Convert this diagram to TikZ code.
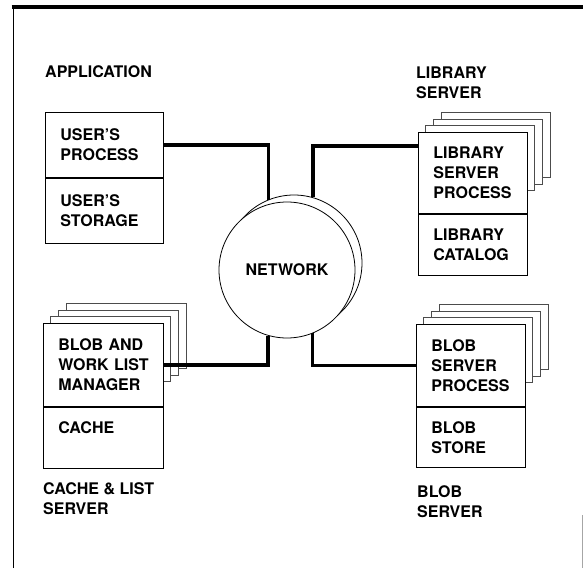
\documentclass[tikz,border=0pt]{standalone}
\usepackage{fontspec}
\setmainfont{TeX Gyre Heros}
\usetikzlibrary{backgrounds}
\begin{document}
\begin{tikzpicture}[x=1pt,y=-1pt,
	every node/.style={font=\bfseries\fontsize{16}{20}\selectfont},
	part/.style={draw,line width=0.8pt,fill=white,inner xsep=15pt,inner ysep=0pt,align=left,anchor=north west},
	sheet/.style={draw=black!70,line width=0.7pt,fill=white},
	link/.style={line width=3.6pt},
	caption/.style={anchor=north west,inner sep=0pt,align=left}]
	\useasboundingbox (0,0) rectangle (583,568);
	% frame
	\draw[line width=0.8pt] (13,568) -- (13,7);
	\draw[line width=3.5pt] (11.6,7) -- (583,7);
	\draw[black!35,line width=0.5pt] (582,515) -- (582,568);
	% titles
	\node[caption] (appl) at (45,65) {APPLICATION};
	\node[caption] (libsrv) at (416,67) {LIBRARY\\SERVER};
	\node[caption] (cachesrv) at (43,482) {CACHE \& LIST\\SERVER};
	\node[caption] (blobsrv) at (417,485) {BLOB\\SERVER};
	% application
	\node[part,text width=88pt,minimum height=65pt] (userproc) at (45,112) {USER'S\\PROCESS};
	\node[part,text width=88pt,minimum height=65pt] (userstore) at (userproc.south west) {USER'S\\STORAGE};
	% library server
	\node[part,text width=79pt,minimum height=81pt] (libproc) at (418,132) {LIBRARY\\SERVER\\PROCESS};
	\node[part,text width=79pt,minimum height=61pt] (libcat) at (libproc.south west) {LIBRARY\\CATALOG};
	% cache & list server
	\node[part,text width=90pt,minimum height=83pt] (cacheproc) at (43,323) {BLOB AND\\WORK~LIST\\MANAGER};
	\node[part,text width=90pt,minimum height=61pt] (cache) at (cacheproc.south west) {CACHE\\\mbox{}};
	% blob server
	\node[part,text width=79pt,minimum height=82pt] (blobproc) at (416,324) {BLOB\\SERVER\\PROCESS};
	\node[part,text width=79pt,minimum height=60pt] (blobstore) at (blobproc.south west) {BLOB\\STORE};
	% copies behind the server processes
	\begin{scope}[on background layer]
		\foreach \n/\w in {libproc/109,cacheproc/120,blobproc/109}{
			\foreach \i in {3,2,1}{
				\draw[sheet] (\n.north west) ++(7.7*\i,-6.4*\i) rectangle +(\w,65);
			}
		}
	\end{scope}
	% network
	\node[draw,circle,fill=white,line width=0.8pt,minimum size=136pt,inner sep=0pt] (netb) at (294,263) {};
	\node[draw,circle,fill=white,line width=0.8pt,minimum size=136pt,inner sep=0pt] (net) at (287,270) {NETWORK};
	% links
	\draw[link] (userproc.east) -| (netb.112.5);
	\draw[link] ([yshift=27pt]libproc.west) -| (netb.74);
	\draw[link] (cacheproc.east) -| (net.254);
	\draw[link] (blobproc.west) -| (net.292.5);
\end{tikzpicture}
\end{document}
